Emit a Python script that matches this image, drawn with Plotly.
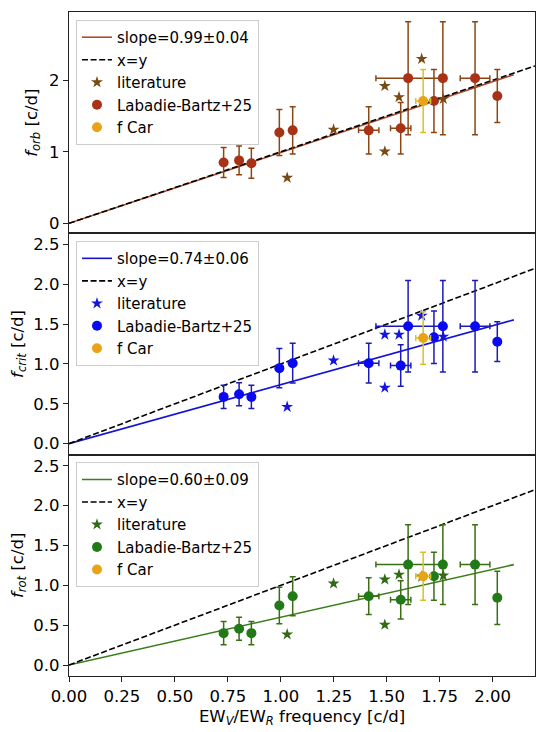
import plotly.graph_objects as go
from plotly.subplots import make_subplots

# EW_V/EW_R frequency [c/d] of the Labadie-Bartz+25 stars
x_lb = [0.730, 0.803, 0.861, 0.993, 1.056, 1.415, 1.566, 1.601, 1.723, 1.765, 1.917, 2.022]
xerr_lb = [0, 0, 0, 0, 0, 0.048, 0.048, 0.152, 0, 0, 0.07, 0]

f_orb = [0.85, 0.88, 0.84, 1.27, 1.30, 1.30, 1.33, 2.03, 1.71, 2.03, 2.03, 1.78]
f_orb_err = [0.21, 0.20, 0.21, 0.32, 0.33, 0.33, 0.36, 0.79, 0.44, 0.79, 0.79, 0.37]
f_crit = [0.587, 0.62, 0.587, 0.948, 1.01, 1.01, 0.98, 1.473, 1.335, 1.473, 1.473, 1.28]
f_crit_err = [0.145, 0.145, 0.145, 0.245, 0.25, 0.25, 0.26, 0.575, 0.33, 0.575, 0.575, 0.25]
f_rot = [0.40, 0.455, 0.40, 0.747, 0.864, 0.864, 0.818, 1.26, 1.114, 1.26, 1.26, 0.843]
f_rot_err = [0.145, 0.145, 0.145, 0.23, 0.245, 0.23, 0.24, 0.50, 0.30, 0.50, 0.50, 0.335]

# literature stars
x_lit = [1.03, 1.249, 1.491, 1.491, 1.558, 1.665, 1.767]
lit_orb = [0.637, 1.31, 1.92, 1.005, 1.765, 2.30, 1.74]
lit_crit = [0.462, 1.044, 1.369, 0.703, 1.369, 1.606, 1.344]
lit_rot = [0.384, 1.023, 1.073, 0.505, 1.135, 1.11, 1.123]

# f Car
car_x, car_xerr = 1.672, 0.035
car_orb, car_orb_err = 1.71, 0.44
car_crit, car_crit_err = 1.327, 0.33
car_rot, car_rot_err = 1.114, 0.30

slopes = [0.99, 0.74, 0.60]
slope_labels = ["slope=0.99±0.04", "slope=0.74±0.06", "slope=0.60±0.09"]
fit_x = [0, 2.1]
diag_x = [0, 2.2]

FONT = "DejaVu Sans"

panels = [
    dict(y=f_orb, yerr=f_orb_err, lit=lit_orb, car=(car_orb, car_orb_err),
         mk="#a83216", eb="#8b4513", ln="#b04a28", st="#7a4a14",
         title="<i>f</i><sub><i>orb</i></sub> [c/d]"),
    dict(y=f_crit, yerr=f_crit_err, lit=lit_crit, car=(car_crit, car_crit_err),
         mk="#0a0af0", eb="#1a1ab8", ln="#1414d2", st="#1515e0",
         title="<i>f</i><sub><i>crit</i></sub> [c/d]"),
    dict(y=f_rot, yerr=f_rot_err, lit=lit_rot, car=(car_rot, car_rot_err),
         mk="#217a17", eb="#3b6e14", ln="#3a7d1a", st="#2f6a14",
         title="<i>f</i><sub><i>rot</i></sub> [c/d]"),
]

fig = make_subplots(rows=3, cols=1, shared_xaxes=True, vertical_spacing=0)

legend_y = [0.988, 0.655, 0.322]
for i, p in enumerate(panels):
    row = i + 1
    lg = "legend" if i == 0 else f"legend{i + 1}"
    k = slopes[i]
    fig.add_trace(go.Scatter(x=fit_x, y=[k * v for v in fit_x], mode="lines",
                             line=dict(color=p["ln"], width=1.6),
                             name=slope_labels[i], legend=lg), row=row, col=1)
    fig.add_trace(go.Scatter(x=diag_x, y=diag_x, mode="lines",
                             line=dict(color="black", width=1.6, dash="6px,2.6px"),
                             name="x=y", legend=lg), row=row, col=1)
    fig.add_trace(go.Scatter(x=x_lit, y=p["lit"], mode="markers",
                             marker=dict(symbol="star", size=9, color=p["st"]),
                             name="literature", legend=lg), row=row, col=1)
    fig.add_trace(go.Scatter(x=x_lb, y=p["y"], mode="markers",
                             marker=dict(symbol="circle", size=10, color=p["mk"]),
                             error_y=dict(type="data", array=p["yerr"], color=p["eb"], thickness=1.5, width=3),
                             error_x=dict(type="data", array=xerr_lb, color=p["eb"], thickness=1.5, width=3),
                             name="Labadie-Bartz+25", legend=lg), row=row, col=1)
    fig.add_trace(go.Scatter(x=[car_x], y=[p["car"][0]], mode="markers",
                             marker=dict(symbol="circle", size=10, color="#e8a317"),
                             error_y=dict(type="data", array=[p["car"][1]], color="#d6c22a", thickness=1.5, width=3),
                             error_x=dict(type="data", array=[car_xerr], color="#d6c22a", thickness=1.5, width=3),
                             name="f Car", legend=lg), row=row, col=1)
    fig.update_layout({lg: dict(x=0.015, y=legend_y[i], xanchor="left", yanchor="top",
                                bgcolor="rgba(255,255,255,0.85)", bordercolor="#cccccc",
                                borderwidth=1, font=dict(family=FONT, size=15, color="black"),
                                tracegroupgap=0)})

axis_style = dict(showline=True, mirror=True, linecolor="#222222", linewidth=1.2,
                  showgrid=False, zeroline=False, ticks="outside", ticklen=5,
                  tickwidth=1.2, tickcolor="#222222",
                  tickfont=dict(family=FONT, size=16.5, color="black"))

for row in (1, 2, 3):
    fig.update_xaxes(axis_style, range=[0, 2.2], tick0=0, dtick=0.25, tickformat=".2f",
                     row=row, col=1)
    fig.update_yaxes(axis_style, row=row, col=1,
                     title=dict(text=panels[row - 1]["title"],
                                font=dict(family=FONT, size=16.5, color="black"), standoff=7))
fig.update_xaxes(showticklabels=False, ticks="", row=1, col=1)
fig.update_xaxes(showticklabels=False, ticks="", row=2, col=1)
fig.update_xaxes(title=dict(text="EW<sub><i>V</i></sub>/EW<sub><i>R</i></sub> frequency [c/d]",
                            font=dict(family=FONT, size=16.5, color="black"), standoff=5),
                 row=3, col=1)

fig.update_yaxes(range=[-0.14, 2.955], tickvals=[0, 1, 2], ticktext=["0", "1", "2"], row=1, col=1)
fig.update_yaxes(range=[-0.138, 2.64], tick0=0, dtick=0.5, tickformat=".1f", row=2, col=1)
fig.update_yaxes(range=[-0.138, 2.64], tick0=0, dtick=0.5, tickformat=".1f", row=3, col=1)

# the page adds about 8px of body margin, so the plot area is shifted back by that much
fig.update_layout(
    width=550, height=732,
    margin=dict(l=61, r=23, t=4, b=64, autoexpand=False),
    plot_bgcolor="white", paper_bgcolor="white",
    font=dict(family=FONT, size=15, color="black"),
    showlegend=True,
)
fig.layout.yaxis.domain = [2 / 3, 1]
fig.layout.yaxis2.domain = [1 / 3, 2 / 3]
fig.layout.yaxis3.domain = [0, 1 / 3]

fig.write_html("out.html")
